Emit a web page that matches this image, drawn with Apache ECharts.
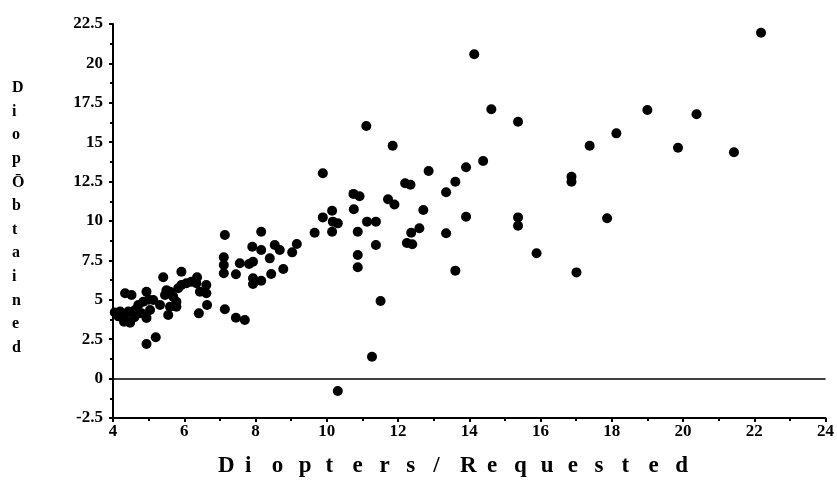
<!DOCTYPE html>
<html>
<head>
<meta charset="utf-8">
<script src="https://cdn.jsdelivr.net/npm/echarts@6/dist/echarts.min.js"></script>
<style>
  html, body { margin: 0; background: #fff; }
  #chart { width: 837px; height: 491px; }
</style>
</head>
<body>
<div id="chart"></div>
<script>
// diopters requested (x) vs obtained (y)
const requested = [
  4.05, 4.15, 4.20, 4.31, 4.34, 4.48, 4.34, 4.52, 4.43, 4.62, 4.71, 4.80, 4.94, 4.85, 4.94, 5.04,
  5.13, 5.32, 5.46, 5.60, 5.69, 5.78, 5.83, 5.92, 6.06, 6.20, 6.34, 6.44, 5.60, 5.78, 5.41, 5.92,
  6.36, 6.62, 6.62, 6.64, 6.41, 5.55, 4.94, 5.20, 5.00, 5.50, 4.60,
  7.14, 8.16, 9.66, 7.91, 8.16, 8.54, 8.68, 9.16, 9.03, 8.40, 7.11, 7.11, 7.11, 7.56, 7.82, 7.93,
  7.45, 7.93, 7.93, 8.16, 8.44, 8.78, 7.14, 7.45, 7.70,
  9.89, 12.20, 12.35, 10.75, 10.92, 11.72, 11.90, 10.15, 10.76, 9.89, 10.17, 10.31, 10.15, 10.87,
  11.13, 11.38, 11.38, 10.87, 10.87, 12.37, 12.25, 12.40, 12.60, 11.51, 11.27, 10.31, 11.11, 11.85, 12.71,
  14.14, 14.62, 15.37, 14.39, 13.91, 12.86, 13.61, 13.35, 13.91, 13.35, 13.61, 15.37, 15.37,
  19.00, 18.13, 17.38, 16.87, 16.87, 17.87, 15.89, 17.01, 22.19, 20.38, 19.86, 21.43
];
const obtained = [
  4.20, 3.95, 4.25, 3.61, 3.80, 3.55, 5.41, 5.30, 4.25, 4.35, 4.67, 4.14, 3.85, 4.88, 5.51, 4.35,
  4.99, 4.67, 5.30, 5.51, 5.20, 4.88, 5.73, 5.94, 6.05, 6.15, 6.05, 5.51, 4.56, 4.56, 6.43, 6.78,
  6.43, 5.94, 5.41, 4.67, 4.14, 4.04, 2.20, 2.62, 5.00, 5.60, 3.90,
  9.11, 9.32, 9.26, 8.37, 8.16, 8.48, 8.16, 8.54, 8.01, 7.63, 7.70, 7.21, 6.68, 7.32, 7.27, 7.42,
  6.62, 6.36, 6.00, 6.21, 6.64, 6.95, 4.40, 3.86, 3.72,
  13.03, 12.40, 12.30, 11.72, 11.57, 11.38, 11.05, 10.65, 10.74, 10.23, 9.96, 9.85, 9.32, 9.32,
  9.96, 9.96, 8.48, 7.84, 7.06, 9.26, 8.60, 8.52, 9.54, 4.92, 1.39, -0.79, 16.03, 14.78, 10.70,
  20.58, 17.09, 16.30, 13.81, 13.41, 13.17, 12.49, 11.82, 10.27, 9.22, 6.85, 10.23, 9.70,
  17.04, 15.56, 14.78, 12.81, 12.49, 10.17, 7.95, 6.74, 21.95, 16.77, 14.65, 14.36
];

const xTitle = 'Diopters/Requested';
const yTitle = ['D', 'i', 'o', 'p', 'Ō', 'b', 't', 'a', 'i', 'n', 'e', 'd'];

const FONT = '"Liberation Serif", "DejaVu Serif", serif';

const chart = echarts.init(document.getElementById('chart'));

// spaced-out axis titles, one letter at a time
const titleChars = [];
xTitle.split('').forEach((ch, i) => {
  titleChars.push({
    type: 'text', left: 218 + i * 26.9, top: 455,
    style: { text: ch, font: 'bold 23px ' + FONT, fill: '#000' }
  });
});
yTitle.forEach((ch, i) => {
  titleChars.push({
    type: 'text', left: 12, top: 80 + i * 23.6,
    style: { text: ch, font: 'bold 16px ' + FONT, fill: '#000' }
  });
});

chart.setOption({
  animation: false,
  grid: { left: 113, right: 10, top: 24, bottom: 73 },
  xAxis: {
    type: 'value', min: 4, max: 24, interval: 2,
    axisLine: { onZero: false, lineStyle: { color: '#000', width: 2 } },
    axisTick: { length: 4, lineStyle: { color: '#000', width: 2 } },
    minorTick: { show: true, splitNumber: 2, length: 3, lineStyle: { color: '#000', width: 2 } },
    splitLine: { show: false },
    axisLabel: { color: '#000', fontFamily: FONT, fontWeight: 'bold', fontSize: 17, margin: 5 }
  },
  yAxis: {
    type: 'value', min: -2.5, max: 22.5, interval: 2.5,
    axisLine: { show: true, lineStyle: { color: '#000', width: 2 } },
    axisTick: { show: true, length: 4, lineStyle: { color: '#000', width: 2 } },
    minorTick: { show: true, splitNumber: 2, length: 3, lineStyle: { color: '#000', width: 2 } },
    splitLine: { show: false },
    axisLabel: { color: '#000', fontFamily: FONT, fontWeight: 'bold', fontSize: 17, margin: 10 }
  },
  graphic: titleChars,
  series: [{
    type: 'scatter',
    symbolSize: 10,
    itemStyle: { color: '#000', opacity: 1 },
    data: requested.map((x, i) => [x, obtained[i]]),
    markLine: {
      silent: true, symbol: 'none', label: { show: false },
      lineStyle: { color: '#000', width: 1.5, type: 'solid' },
      data: [{ yAxis: 0 }]
    }
  }]
});
</script>
</body>
</html>
